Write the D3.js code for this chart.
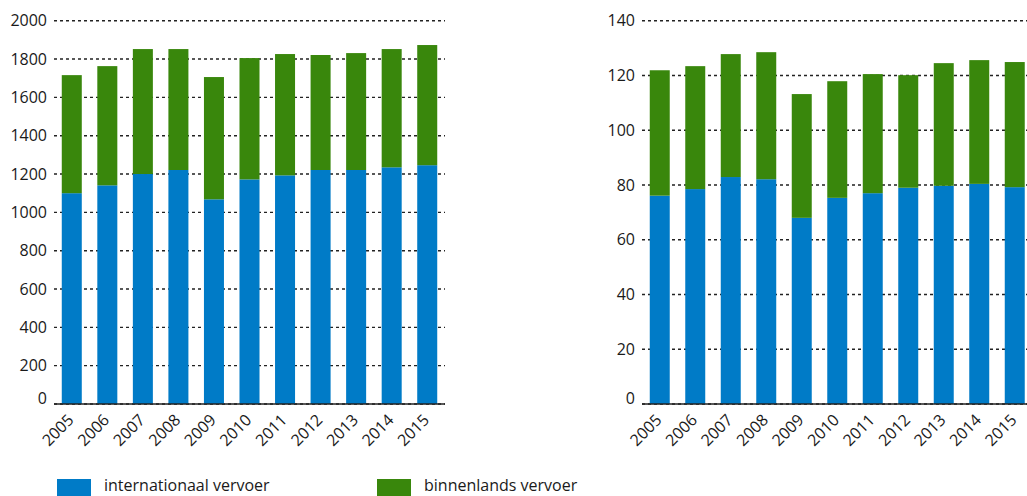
<!DOCTYPE html>
<html>
<head>
<meta charset="utf-8">
<script src="https://cdn.jsdelivr.net/npm/d3@7"></script>
<style>
  html, body { margin: 0; padding: 0; background: #fff; }
  svg { display: block; font-family: "Open Sans", sans-serif; }
</style>
</head>
<body>
<svg id="chart" width="1027" height="496"></svg>
<script>
const years = ["2005","2006","2007","2008","2009","2010","2011","2012","2013","2014","2015"];
const leftInternationaal = [1100,1141,1200,1221,1068,1172,1193,1221,1221,1235,1246];
const leftBinnenlands    = [616,622,652,631,638,633,633,600,610,617,627];
const rightInternationaal = [76.1,78.5,82.9,82.1,68.0,75.3,77.0,79.0,79.7,80.4,79.2];
const rightBinnenlands    = [45.8,44.9,44.9,46.4,45.2,42.6,43.5,41.1,44.8,45.2,45.7];
const leftTicks = [0,200,400,600,800,1000,1200,1400,1600,1800,2000];
const rightTicks = [0,20,40,60,80,100,120,140];
const seriesNames = ["internationaal vervoer","binnenlands vervoer"];
const colors = ["#007bc7","#39870c"];

const svg = d3.select("#chart");
const textColor = "#1a1a1a";

function panel(x0, x1, maxY, ticks, intl, dom) {
  const g = svg.append("g");
  const x = d3.scaleBand().domain(years).range([x0, x1]).paddingInner(0.437).paddingOuter(0.2185);
  const y = d3.scaleLinear().domain([0, maxY]).range([404, 20.7]);

  g.selectAll("line.grid").data(ticks).join("line")
    .attr("x1", x0).attr("x2", x1)
    .attr("y1", d => y(d)).attr("y2", d => y(d))
    .attr("stroke", "#222").attr("stroke-width", 1.4)
    .attr("stroke-dasharray", "3,3");

  g.selectAll("text.ylab").data(ticks).join("text")
    .attr("x", x0 - 7)
    .attr("y", d => y(d) - (d === 0 ? 6 : 0))
    .attr("dy", "0.35em")
    .attr("text-anchor", "end")
    .attr("font-size", 16)
    .attr("fill", textColor)
    .text(d => d);

  const data = years.map((yr, i) => ({ yr, a: intl[i], b: dom[i] }));
  const stack = d3.stack().keys(["a", "b"])(data);
  stack.forEach((s, si) => {
    g.selectAll(null).data(s).join("rect")
      .attr("x", d => x(d.data.yr))
      .attr("width", x.bandwidth())
      .attr("y", d => y(d[1]))
      .attr("height", d => y(d[0]) - y(d[1]))
      .attr("fill", colors[si]);
  });

  g.append("line").attr("x1", x0).attr("x2", x1).attr("y1", y(0)).attr("y2", y(0))
    .attr("stroke", "#222").attr("stroke-width", 1.5);

  g.selectAll("text.xlab").data(years).join("text")
    .attr("transform", d => `translate(${x(d) + x.bandwidth() / 2 + 3},421) rotate(-45)`)
    .attr("text-anchor", "end")
    .attr("font-size", 16)
    .attr("fill", textColor)
    .text(d => d);
}

panel(54, 445, 2000, leftTicks, leftInternationaal, leftBinnenlands);
panel(642, 1032.5, 140, rightTicks, rightInternationaal, rightBinnenlands);

const legendX = [57, 377];
seriesNames.forEach((name, i) => {
  svg.append("rect").attr("x", legendX[i]).attr("y", 479).attr("width", 34).attr("height", 17).attr("fill", colors[i]);
  svg.append("text").attr("x", legendX[i] + 47).attr("y", 491)
    .attr("font-size", 16).attr("fill", textColor).text(name);
});
</script>
</body>
</html>
